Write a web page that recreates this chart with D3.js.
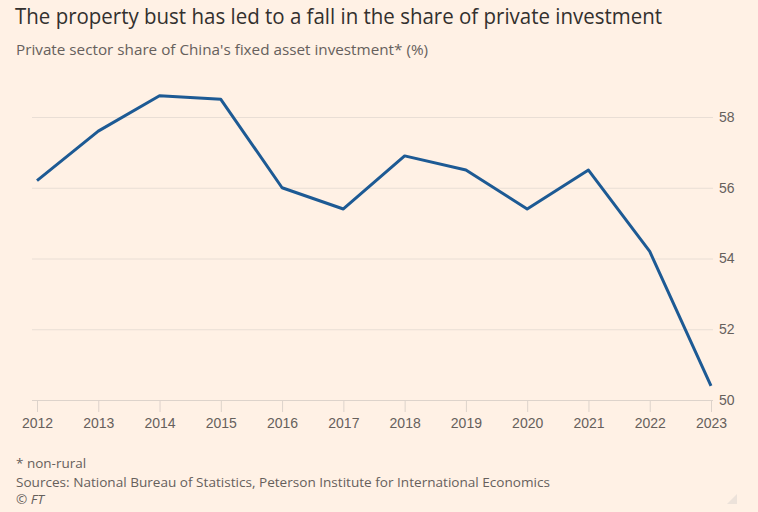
<!DOCTYPE html>
<html><head><meta charset="utf-8">
<script src="https://cdn.jsdelivr.net/npm/d3@7"></script>
<style>
body{margin:0;background:#fff1e5;}
svg{display:block;font-family:"Open Sans","Noto Sans",sans-serif;}
</style></head>
<body><svg id="c" width="758" height="512"></svg>
<script>
const years = [2012,2013,2014,2015,2016,2017,2018,2019,2020,2021,2022,2023];
const shares = [56.2,57.6,58.6,58.5,56.0,55.4,56.9,56.5,55.4,56.5,54.2,50.4];
const yTicks = [50,52,54,56,58];

const svg = d3.select("#c");
svg.append("rect").attr("width",758).attr("height",512).attr("fill","#fff1e5");

const x = d3.scaleLinear().domain([2012,2023]).range([37,711]);
const y = d3.scaleLinear().domain([50,58]).range([400,117]);

// gridlines + y labels
const yAxis = d3.axisRight(y).tickValues(yTicks).tickSize(681).tickPadding(6).tickFormat(d3.format("d"));
const gy = svg.append("g").attr("transform","translate(32,0)").call(yAxis);
gy.select(".domain").remove();
gy.selectAll(".tick line").attr("stroke","#e9ded5").attr("stroke-width",1);
gy.selectAll(".tick line").filter(d=>d===50).attr("stroke","#ddd3cb");
gy.selectAll(".tick text").attr("fill","#66605c").attr("font-size",14).attr("dy","0.32em").attr("x",687);

// x axis
const xAxis = d3.axisBottom(x).tickValues(years).tickSize(12).tickPadding(6).tickFormat(d3.format("d"));
const gx = svg.append("g").attr("transform","translate(0,400)").call(xAxis);
gx.select(".domain").remove();
gx.selectAll(".tick line").attr("stroke","#ddd3cb");
gx.selectAll(".tick text").attr("fill","#66605c").attr("font-size",14);

// line
const line = d3.line().x((d,i)=>x(years[i])).y(d=>y(d));
svg.append("path").datum(shares).attr("d",line).attr("fill","none")
  .attr("stroke","#1d5a94").attr("stroke-width",3).attr("stroke-linejoin","round");

// titles
svg.append("text").attr("x",15).attr("y",24).attr("font-size",21).attr("fill","#33302e")
  .attr("textLength",647).attr("lengthAdjust","spacingAndGlyphs")
  .text("The property bust has led to a fall in the share of private investment");
svg.append("text").attr("x",16).attr("y",55).attr("font-size",14).attr("fill","#66605c")
  .attr("textLength",412).attr("lengthAdjust","spacingAndGlyphs")
  .text("Private sector share of China's fixed asset investment* (%)");

// footnotes
svg.append("text").attr("x",16).attr("y",468).attr("font-size",13.5).attr("fill","#66605c").text("* non-rural");
svg.append("text").attr("x",16).attr("y",487).attr("font-size",13.5).attr("fill","#66605c")
  .attr("textLength",534).attr("lengthAdjust","spacingAndGlyphs")
  .text("Sources: National Bureau of Statistics, Peterson Institute for International Economics");
svg.append("text").attr("x",16).attr("y",504).attr("font-size",13.5).attr("fill","#66605c").attr("font-style","italic").text("© FT");

svg.append("path").attr("d","M737,504 L737,494 L727,504 Z").attr("fill","#ece2da");
</script></body></html>
